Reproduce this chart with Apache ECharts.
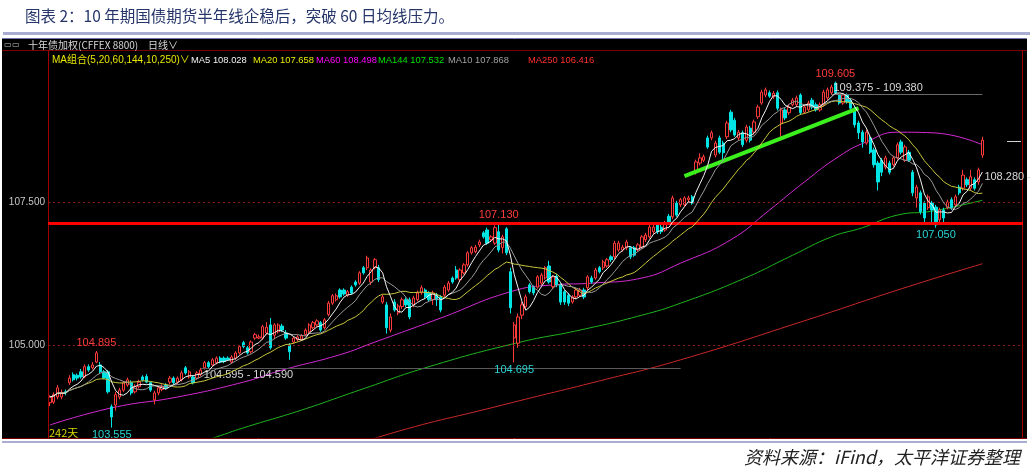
<!DOCTYPE html>
<html><head><meta charset="utf-8">
<script src="https://cdn.jsdelivr.net/npm/echarts@6/dist/echarts.min.js"></script>
<style>html,body{margin:0;padding:0;background:#fff}#c{width:1032px;height:470px}</style>
</head><body><div id="c"></div>
<script>
// [open, close, low, high] for 242 daily candles
const candles = [
[103.99,104.09,103.93,104.12],[104.00,104.13,103.97,104.17],[104.09,104.25,104.05,104.30],[104.09,104.16,104.05,104.22],[104.18,104.16,104.12,104.22],
[104.34,104.42,104.30,104.47],[104.48,104.39,104.36,104.52],[104.47,104.42,104.38,104.50],[104.53,104.44,104.41,104.58],[104.44,104.62,104.42,104.66],
[104.62,104.56,104.53,104.66],[104.60,104.65,104.57,104.70],[104.70,104.86,104.68,104.895],[104.65,104.53,104.50,104.70],[104.53,104.42,104.40,104.56],
[104.53,104.18,104.15,104.56],[103.92,103.74,103.555,103.96],[103.95,104.13,103.85,104.18],[104.09,104.21,104.05,104.25],[104.21,104.34,104.18,104.37],
[104.30,104.39,104.27,104.43],[104.34,104.16,104.12,104.38],[104.18,104.27,104.15,104.31],[104.27,104.35,104.24,104.39],[104.44,104.39,104.36,104.47],
[104.45,104.35,104.33,104.49],[104.34,104.21,104.18,104.36],[104.04,104.16,103.96,104.20],[104.16,104.25,104.12,104.28],[104.22,104.27,104.19,104.31],
[104.30,104.25,104.22,104.33],[104.35,104.42,104.31,104.46],[104.42,104.34,104.31,104.45],[104.35,104.42,104.32,104.45],[104.39,104.51,104.36,104.55],
[104.60,104.51,104.48,104.63],[104.44,104.53,104.41,104.56],[104.44,104.34,104.31,104.47],[104.42,104.51,104.39,104.54],[104.48,104.56,104.45,104.60],
[104.60,104.69,104.57,104.72],[104.69,104.62,104.59,104.72],[104.65,104.74,104.62,104.77],[104.69,104.77,104.66,104.80],[104.77,104.70,104.68,104.80],
[104.77,104.71,104.68,104.80],[104.77,104.74,104.72,104.80],[104.70,104.79,104.67,104.82],[104.77,104.86,104.74,104.89],[104.86,104.97,104.83,105.00],
[105.04,104.97,104.94,105.07],[104.95,104.86,104.83,104.98],[104.88,105.05,104.85,105.08],[105.12,105.18,105.09,105.21],[105.12,105.14,105.10,105.18],
[105.12,105.32,105.09,105.35],[105.21,105.31,105.18,105.40],[105.35,104.95,104.92,105.47],[105.17,105.35,105.10,105.38],[105.23,105.35,105.20,105.38],
[105.33,105.26,105.23,105.37],[105.21,105.12,105.09,105.26],[105.00,104.88,104.74,105.03],[105.05,105.12,105.02,105.15],[105.09,105.14,105.06,105.17],
[105.10,105.16,105.07,105.19],[105.18,105.26,105.15,105.29],[105.23,105.35,105.20,105.38],[105.30,105.39,105.27,105.42],[105.35,105.42,105.32,105.45],
[105.39,105.26,105.23,105.42],[105.30,105.44,105.27,105.47],[105.53,105.73,105.50,105.77],[105.73,105.86,105.70,105.89],[105.79,105.86,105.76,105.90],
[105.96,105.84,105.81,105.99],[105.96,105.89,105.86,105.99],[105.87,105.93,105.84,105.96],[106.01,105.91,105.88,106.04],[106.10,106.05,106.02,106.13],
[106.08,106.26,106.05,106.29],[106.35,106.26,106.23,106.38],[106.35,106.52,106.31,106.56],[106.10,106.31,106.05,106.34],[106.35,106.49,106.32,106.52],
[106.35,106.14,106.10,106.40],[105.75,105.84,105.72,105.88],[105.70,105.30,105.20,105.75],[105.26,105.49,105.22,105.55],[105.75,105.61,105.58,105.80],
[105.56,105.68,105.52,105.72],[105.67,105.79,105.63,105.83],[105.79,105.70,105.66,105.83],[105.79,105.49,105.45,105.83],[105.70,105.82,105.66,105.86],
[105.79,105.91,105.76,105.95],[105.91,106.00,105.88,106.04],[105.96,105.84,105.81,105.99],[105.91,105.79,105.76,105.94],[105.79,105.91,105.70,105.95],
[105.87,105.79,105.68,105.91],[105.84,105.61,105.57,105.87],[105.87,106.01,105.84,106.05],[105.96,106.08,105.93,106.12],[106.17,106.10,106.07,106.20],
[106.31,106.17,106.14,106.38],[106.14,106.31,106.10,106.34],[106.26,106.40,106.23,106.43],[106.40,106.61,106.37,106.64],[106.61,106.70,106.58,106.73],
[106.63,106.71,106.60,106.75],[106.75,106.80,106.71,106.84],[106.96,106.89,106.86,106.99],[107.01,106.78,106.75,107.05],[106.84,106.89,106.80,106.92],
[106.78,107.05,106.75,107.09],[106.98,106.66,106.62,107.13],[106.70,106.89,106.60,106.93],[107.03,106.61,106.57,107.06],[106.28,105.65,105.55,106.35],
[105.12,105.35,104.695,105.40],[105.03,105.49,104.95,105.55],[105.52,105.70,105.45,105.75],[105.67,105.84,105.63,105.88],[106.05,105.93,105.90,106.08],
[106.01,105.91,105.87,106.04],[106.01,106.19,105.98,106.22],[106.08,106.22,106.05,106.26],[106.17,106.35,106.14,106.38],[106.38,106.10,106.07,106.47],
[106.02,106.19,105.98,106.22],[106.20,106.05,106.01,106.24],[106.05,105.75,105.70,106.08],[105.93,105.75,105.70,105.96],[105.87,105.73,105.68,105.91],
[105.75,105.84,105.72,105.87],[105.84,105.96,105.80,106.00],[105.87,105.96,105.84,106.00],[105.96,105.84,105.80,106.00],[106.00,106.19,105.96,106.22],
[106.17,106.10,106.07,106.21],[106.17,106.31,106.14,106.35],[106.35,106.28,106.25,106.38],[106.35,106.45,106.31,106.49],[106.38,106.49,106.35,106.52],
[106.54,106.49,106.45,106.57],[106.54,106.78,106.50,106.82],[106.66,106.78,106.63,106.82],[106.66,106.71,106.63,106.75],[106.70,106.80,106.66,106.84],
[106.70,106.54,106.50,106.73],[106.70,106.57,106.54,106.73],[106.66,106.75,106.63,106.78],[106.71,106.89,106.68,106.92],[106.84,106.92,106.80,106.96],
[106.89,107.06,106.86,107.10],[106.98,107.06,106.94,107.10],[107.10,106.98,106.94,107.13],[107.06,106.98,106.94,107.10],[107.01,107.13,106.98,107.17],
[107.25,107.13,107.10,107.29],[107.24,107.57,107.20,107.61],[107.48,107.27,107.24,107.52],[107.45,107.54,107.41,107.57],[107.45,107.57,107.42,107.60],
[107.54,107.57,107.50,107.61],[107.59,107.48,107.45,107.62],[108.02,108.20,107.98,108.24],[108.18,108.27,108.14,108.35],[108.23,108.29,108.20,108.33],
[108.62,108.46,108.43,108.66],[108.62,108.71,108.58,108.75],[108.32,108.53,108.28,108.57],[108.62,108.37,108.34,108.66],[108.53,108.36,108.20,108.57],
[108.64,108.88,108.60,108.92],[109.07,108.76,108.72,109.11],[108.93,108.67,108.64,108.97],[108.62,108.72,108.58,108.76],[108.71,108.50,108.46,108.75],
[108.58,108.81,108.54,108.85],[108.79,108.58,108.54,108.83],[108.72,108.90,108.68,108.94],[108.99,109.16,108.95,109.20],[109.23,109.42,109.20,109.46],
[109.37,109.46,109.33,109.50],[109.41,109.35,109.32,109.45],[109.34,109.40,109.30,109.44],[109.41,109.14,109.10,109.45],[108.88,109.11,108.64,109.15],
[109.11,108.97,108.93,109.15],[109.06,109.16,109.02,109.20],[109.20,109.28,109.17,109.32],[109.20,109.32,109.16,109.36],[109.37,109.06,109.02,109.40],
[109.07,109.16,109.04,109.20],[109.11,109.23,109.08,109.27],[109.28,109.16,109.12,109.32],[109.20,109.11,109.08,109.24],[109.11,109.20,109.08,109.24],
[109.20,109.42,109.17,109.46],[109.32,109.46,109.28,109.50],[109.41,109.51,109.37,109.55],[109.58,109.41,109.37,109.605],[109.37,109.23,109.20,109.40],
[109.23,109.37,109.20,109.40],[109.37,109.25,109.22,109.40],[109.28,109.14,109.10,109.32],[109.14,108.85,108.80,109.18],[108.88,108.71,108.60,108.92],
[108.72,108.55,108.45,108.76],[108.53,108.72,108.50,108.76],[108.62,108.37,108.34,108.66],[108.41,108.15,108.10,108.45],[108.18,107.85,107.70,108.22],
[108.23,108.02,107.95,108.27],[108.11,108.27,108.07,108.31],[108.18,108.02,107.98,108.22],[108.15,108.27,108.12,108.31],[108.27,108.50,108.24,108.54],
[108.55,108.37,108.33,108.59],[108.23,108.46,108.20,108.50],[108.37,108.23,108.20,108.41],[108.02,107.66,107.60,108.06],[107.57,107.76,107.40,107.80],
[107.66,107.33,107.28,107.70],[107.48,107.22,107.10,107.52],[107.40,107.59,107.36,107.63],[107.48,107.36,107.10,107.52],[107.41,107.10,107.05,107.45],
[107.19,107.36,107.10,107.40],[107.36,107.22,107.12,107.40],[107.40,107.50,107.37,107.54],[107.54,107.40,107.36,107.58],[107.45,107.59,107.42,107.63],
[107.76,107.66,107.62,107.80],[107.74,107.97,107.70,108.06],[107.89,107.80,107.76,107.93],[107.74,107.94,107.70,108.06],[107.89,107.74,107.70,107.93],
[107.85,108.06,107.80,108.10],[108.32,108.58,108.27,108.64]
];
// long moving averages: [day index, value]
const ma60Pts = [[0,103.60],[16,103.90],[33,104.09],[50,104.35],[60,104.56],[75,104.83],[84,105.05],[101,105.47],[119,105.93],[130,106.05],[140,106.08],[153,106.17],[163,106.43],[176,106.84],[186,107.36],[195,107.85],[204,108.30],[211,108.55],[219,108.72],[228,108.71],[241,108.50]];
const ma144Pts = [[30,103.10],[43,103.39],[50,103.55],[65,103.86],[80,104.21],[98,104.62],[121,105.04],[137,105.26],[153,105.52],[163,105.73],[179,106.15],[192,106.57],[202,106.89],[210,107.05],[219,107.27],[228,107.34],[241,107.53]];
const ma250Pts = [[70,103.00],[85,103.39],[117,103.95],[142,104.37],[163,104.74],[194,105.40],[220,105.98],[241,106.42]];
const legendItems = [
  ['MA组合(5,20,60,144,10,250)∨', '#e8e800', 52],
  ['MA5 108.028', '#f0f0f0', 191],
  ['MA20 107.658', '#e8e800', 253],
  ['MA60 108.498', '#ff00ff', 316],
  ['MA144 107.532', '#00e000', 378],
  ['MA10 107.868', '#a0a0a0', 448],
  ['MA250 106.416', '#ff3030', 528]
];
const yTicks = [105.0, 107.5];
const supportLevel = 107.13;

const N = candles.length;
const PAD = 10;
const categories = [];
for (let i = 0; i < N + PAD; i++) categories.push(i < N ? String(i + 1) : '');
const closes = candles.map(c => c[1]);
function ma(n) {
  return closes.map((_, i) => {
    const s = Math.max(0, i - n + 1);
    let sum = 0; for (let k = s; k <= i; k++) sum += closes[k];
    return +(sum / (i - s + 1)).toFixed(3);
  });
}
const lbl = (coord, text, color, pos, dist) => ({
  coord, symbol: 'circle', symbolSize: 0,
  label: { show: true, formatter: text, color, position: pos, distance: dist || 2,
           fontFamily: 'Liberation Sans', fontSize: 11 }
});

const chart = echarts.init(document.getElementById('c'));
const T = (x, y, text, fill, size, extra) => Object.assign({
  type: 'text', z: 10, x, y,
  style: Object.assign({ text, fill, fontSize: size, fontFamily: 'Liberation Sans, Noto Sans CJK SC', verticalAlign: 'middle' }, extra || {})
});
const L = (x1, y1, x2, y2, stroke, w) => ({ type: 'line', z: 5, shape: { x1, y1, x2, y2 }, style: { stroke, lineWidth: w || 1 } });

const graphics = [
  { type: 'rect', z: -1, shape: { x: 2, y: 39, width: 1025, height: 399 }, style: { fill: '#000' } },
  L(3, 33.5, 1030, 33.5, '#a9add2', 3),
  L(2, 38.5, 1027, 38.5, '#6e78b0', 1),
  L(2, 50.5, 1027, 50.5, '#7a0000', 1),
  L(48.5, 50, 48.5, 438, '#a00000', 1),
  L(1022.5, 50, 1022.5, 438, '#a00000', 1),
  L(2, 438.5, 1027, 438.5, '#7a0000', 1),
  L(2, 442, 1027, 442, '#a9add2', 2),
  L(1007, 141.5, 1021, 141.5, '#d0d0d0', 1),
  T(25, 16, '图表 2：10 年期国债期货半年线企稳后，突破 60 日均线压力。', '#26366a', 15.5, { fontFamily: 'Noto Sans CJK SC' }),
  T(4, 45, '▭▭', '#c0c0c0', 8),
  T(28, 45, '十年债加权(CFFEX 8800)', '#d8d8d8', 10, { fontFamily: 'Noto Sans CJK SC' }),
  T(148, 45, '日线∨', '#d8d8d8', 10, { fontFamily: 'Noto Sans CJK SC' }),
  T(49, 433, '242天', '#d8d800', 11, { fontFamily: 'Noto Sans CJK SC' }),
  T(1020, 457, '资料来源：iFind，太平洋证券整理', '#222', 18, { align: 'right', fontStyle: 'italic', fontFamily: 'Noto Sans CJK SC' })
];
legendItems.forEach(([t, c, x], k) => graphics.push(T(x, 60, t, c, k === 0 ? 10 : 9.4, { fontFamily: 'Liberation Sans, Noto Sans CJK SC' })));

chart.setOption({
  animation: false,
  backgroundColor: '#fff',
  graphic: graphics,
  grid: { left: 48, right: 9, top: 55, bottom: 33 },
  xAxis: { type: 'category', data: categories, boundaryGap: true,
           axisLine: { show: false }, axisTick: { show: false }, axisLabel: { show: false }, splitLine: { show: false } },
  yAxis: { type: 'value', min: 103.39, max: 110.07, scale: true,
           axisLine: { show: false }, axisTick: { show: false }, axisLabel: { show: false }, splitLine: { show: false } },
  series: [
    { type: 'line', name: 'MA250', data: ma250Pts, smooth: true, symbol: 'none', lineStyle: { color: '#c82828', width: 1 }, z: 3 },
    { type: 'line', name: 'MA144', data: ma144Pts, smooth: true, symbol: 'none', lineStyle: { color: '#1fb41f', width: 1 }, z: 3 },
    { type: 'line', name: 'MA60', data: ma60Pts, smooth: true, symbol: 'none', lineStyle: { color: '#d42ad4', width: 1 }, z: 3 },
    {
      type: 'candlestick', name: 'K', data: candles, barWidth: '72%', z: 4,
      itemStyle: { color: '#000', color0: '#00e4e4', borderColor: '#ff3a3a', borderColor0: '#00e4e4', borderWidth: 1 },
      markLine: {
        silent: true, symbol: ['none', 'none'], animation: false,
        data: [
          ...yTicks.map(v => ({ yAxis: v, lineStyle: { color: '#8c1c1c', type: [2, 3], width: 1 },
            label: { show: true, position: 'start', formatter: v.toFixed(3), color: '#c8c8c8', fontSize: 10, fontFamily: 'Liberation Sans', distance: 3 } })),
          { yAxis: supportLevel, lineStyle: { color: '#ff0000', type: 'solid', width: 3 }, label: { show: false } },
          [ { coord: [202, 109.375], lineStyle: { color: '#6a6a6a', type: 'solid', width: 1 },
              label: { show: true, position: 'insideStartTop', formatter: '109.375 - 109.380', color: '#d8d8d8', fontSize: 11, fontFamily: 'Liberation Sans', distance: [2, 1] } },
            { coord: [241, 109.375] } ],
          [ { coord: [39, 104.59], lineStyle: { color: '#5a5a5a', type: 'solid', width: 1 },
              label: { show: true, position: 'insideStartBottom', formatter: '104.595 - 104.590', color: '#d8d8d8', fontSize: 11, fontFamily: 'Liberation Sans', distance: [3, 1] } },
            { coord: [163, 104.59] } ],
          [ { coord: [164, 107.95], lineStyle: { color: '#3cf01e', type: 'solid', width: 4 }, label: { show: false } },
            { coord: [209, 109.14] } ]
        ]
      },
      markPoint: {
        silent: true, animation: false,
        data: [
          lbl([12, 104.895], '104.895', '#ff3c3c', 'top'),
          lbl([16, 103.555], '103.555', '#2ad4d4', 'bottom'),
          lbl([116, supportLevel], '107.130', '#ff3c3c', 'top', 3),
          lbl([120, 104.695], '104.695', '#2ad4d4', 'bottom'),
          lbl([203, 109.605], '109.605', '#ff3c3c', 'top'),
          lbl([229, 107.05], '107.050', '#2ad4d4', 'bottom'),
          lbl([241, 107.94], '108.280 -', '#d8d8d8', 'right', 2)
        ]
      }
    },
    { type: 'line', name: 'MA20', data: ma(20), symbol: 'none', lineStyle: { color: '#c8c83c', width: 1 }, z: 5 },
    { type: 'line', name: 'MA10', data: ma(10), symbol: 'none', lineStyle: { color: '#9a9a9a', width: 1 }, z: 5 },
    { type: 'line', name: 'MA5', data: ma(5), symbol: 'none', lineStyle: { color: '#f4f4f4', width: 1 }, z: 5 }
  ]
});
</script></body></html>
